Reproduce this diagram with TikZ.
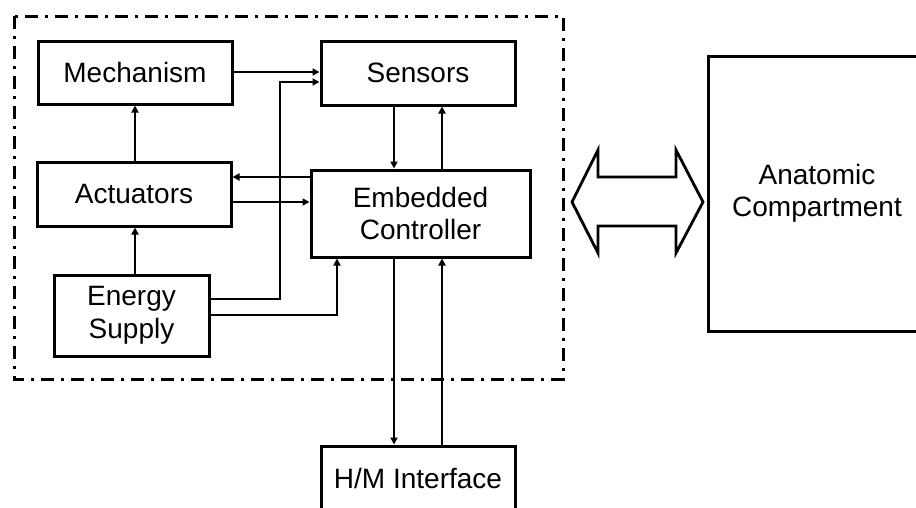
\documentclass[tikz,border=0pt]{standalone}
\usepackage{fontspec}
\setmainfont{Liberation Sans}
\usetikzlibrary{arrows.meta,calc}
\begin{document}
\begin{tikzpicture}[x=1pt,y=-1pt,
  blk/.style={draw=black,line width=3pt,fill=white,inner sep=0pt,align=center,
    font=\fontsize{28}{32.5}\selectfont},
  conn/.style={line width=2.4pt,-{Triangle[length=7pt,width=7pt]}},
  frame/.style={line width=3pt,dash pattern=on 13pt off 7pt on 3pt off 7pt}]
\useasboundingbox (0,0) rectangle (916,507);
\clip (0,0) rectangle (916,507);
\draw[frame] (14,16) rectangle (563,379);
\node[blk,minimum width=194pt,minimum height=63pt] (mech) at (135,72.5) {Mechanism};
\node[blk,minimum width=194pt,minimum height=64pt] (sens) at (418,73) {Sensors};
\node[blk,minimum width=194pt,minimum height=64pt] (act) at (134,194) {Actuators};
\node[blk,minimum width=219pt,minimum height=87pt] (emb) at (420.5,213.5) {Embedded\\Controller};
\node[blk,minimum width=155pt,minimum height=81pt] (en) at (131.5,315.5) {Energy\\Supply};
\node[blk,minimum width=194pt,minimum height=64pt] (hm) at (418,478) {H/M Interface};
\node[blk,minimum width=218pt,minimum height=275pt] (anat) at (817,193.5) {Anatomic\\Compartment};
\coordinate (c1) at (280,299);
\coordinate (c2) at (337,315);
% connectors
\draw[conn] (mech.east |- 0,72) -- (sens.west |- 0,72);
\draw[conn] (en.east |- c1) -- (c1) -- (280,82) -- (sens.west |- 0,82);
\draw[conn] (emb.west |- 0,177) -- (act.east |- 0,177);
\draw[conn] (act.east |- 0,202) -- (emb.west |- 0,202);
\draw[conn] (act.north -| 135,0) -- (mech.south -| 135,0);
\draw[conn] (en.north -| 135,0) -- (act.south -| 135,0);
\draw[conn] (en.east |- c2) -- (c2) -- (emb.south -| c2);
\draw[conn] (sens.south -| 394,0) -- (emb.north -| 394,0);
\draw[conn] (emb.north -| 442,0) -- (sens.south -| 442,0);
\draw[conn] (emb.south -| 394,0) -- (hm.north -| 394,0);
\draw[conn] (hm.north -| 442,0) -- (emb.south -| 442,0);
% double arrow
\draw[line width=2.8pt,line join=miter,fill=white] (572,202) -- (598,150) -- (598,177) -- (676,177) -- (676,150) -- (703,202) -- (676,253) -- (676,226) -- (598,226) -- (598,253) -- cycle;
\end{tikzpicture}
\end{document}
